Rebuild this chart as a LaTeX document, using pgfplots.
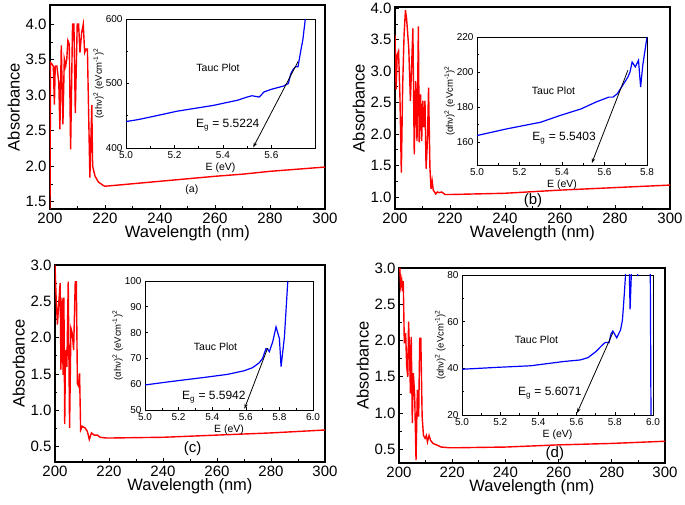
\documentclass[border=0pt]{standalone}
\usepackage{fontspec}
\setmainfont{Liberation Sans}
\usepackage{pgfplots}
\pgfplotsset{compat=1.18}
\usetikzlibrary{arrows.meta}

\pgfplotsset{
  mainax/.style={
    scale only axis, anchor=north west,
    xmin=200, xmax=300, xtick={200,220,...,300},
    minor x tick num=1, minor y tick num=1,
    tick align=inside, xtick pos=bottom, ytick pos=left,
    axis line style={line width=1.6pt},
    tick style={black, line width=0.9pt},
    major tick length=4pt, minor tick length=2.5pt,
    tick label style={font=\fontsize{15}{15}\selectfont},
    label style={font=\fontsize{16.5}{17}\selectfont},
    xlabel={Wavelength (nm)}, ylabel={Absorbance},
    xlabel style={yshift=4pt}, ylabel style={yshift=-1pt},
    y tick label style={/pgf/number format/.cd, fixed, fixed zerofill, precision=1},
    /pgf/number format/assume math mode=true,
  },
  redline/.style={red, line width=1.4pt, mark=none},
  inset/.style={
    scale only axis, anchor=north west,
    axis background/.style={fill=white},
    minor x tick num=1, minor y tick num=1,
    tick align=inside, xtick pos=bottom, ytick pos=left,
    axis line style={line width=0.9pt},
    tick style={black, line width=0.6pt},
    major tick length=3pt, minor tick length=2pt,
    tick label style={font=\fontsize{10}{10}\selectfont},
    xlabel={E (eV)},
    xlabel style={font=\fontsize{10.5}{11}\selectfont, yshift=3pt},
    ylabel={(αhν)\textsuperscript{2} (eVcm\textsuperscript{-1})\textsuperscript{2}},
    ylabel style={font=\fontsize{9.5}{10}\selectfont, yshift=-5pt},
    x tick label style={/pgf/number format/.cd, fixed, fixed zerofill, precision=1},
    /pgf/number format/assume math mode=true,
  },
  blueline/.style={blue, line width=1.2pt, mark=none},
  arrowline/.style={black, line width=0.8pt, mark=none, -{Stealth[length=5pt,width=3.5pt]}},
}
\tikzset{
  lab/.style={font=\fontsize{10.5}{11}\selectfont},
  eg/.style={font=\fontsize{12}{13}\selectfont},
}

\begin{document}
\begin{tikzpicture}
\useasboundingbox (0,0) rectangle (685pt,505pt);

% ---------- (a) ----------
\begin{axis}[mainax, at={(50pt,500pt)}, width=275pt, height=204pt,
  ymin=1.4, ymax=4.27, ytick={1.5,2.0,...,4.0}]
\addplot[redline] coordinates {
(200,1.40) (200.2,3.46) (200.7,3.44) (201.2,3.41) (201.6,2.87) (201.9,3.41)
(202.5,3.41) (203.2,3.18) (203.6,2.52) (204.1,3.70) (204.7,2.59) (205.2,3.51)
(205.7,3.41) (206.1,3.51) (206.5,3.77) (207.0,3.72) (207.5,2.24) (208.2,4.0)
(208.7,4.0) (209.2,2.75) (209.9,4.0) (210.4,4.0) (210.9,3.6) (211.5,3.88)
(212.1,4.0) (212.6,3.6) (213.1,3.65) (213.6,3.65) (214.5,1.84) (215.2,2.86)
(215.5,2.0) (216.4,1.86) (217.6,1.78) (219.4,1.73) (220,1.72) (230,1.755)
(240,1.79) (250,1.825) (260,1.86) (270,1.89) (280,1.93) (290,1.96) (300,1.99)
};
\node[font=\fontsize{10.5}{11}\selectfont] at (axis cs:251.6,1.67) {(a)};
\end{axis}

\begin{axis}[inset, at={(126pt,486pt)}, width=189pt, height=129pt,
  xmin=5.0, xmax=5.78, xtick={5.0,5.2,5.4,5.6},
  ymin=400, ymax=600, ytick={400,500,600}]
\addplot[blueline] coordinates {
(5.0,441) (5.05,444) (5.10,448) (5.15,452) (5.21,457) (5.26,460) (5.31,463)
(5.36,466) (5.41,470) (5.46,474) (5.50,479) (5.52,481) (5.55,479) (5.57,487)
(5.60,491) (5.65,496) (5.67,500) (5.68,515) (5.69,522) (5.70,526) (5.71,526)
(5.72,548) (5.73,568) (5.74,600)
};
\addplot[arrowline] coordinates {(5.71,534) (5.525,401)};
\node[lab] at (axis cs:5.38,525) {Tauc Plot};
\node[eg] at (axis cs:5.42,435) {E\textsubscript{g} = 5.5224};
\end{axis}

% ---------- (b) ----------
\begin{axis}[mainax, at={(395pt,498pt)}, width=275pt, height=202pt,
  ymin=0.81, ymax=4.02, ytick={1.0,1.5,...,4.0}]
\addplot[redline] coordinates {
(200,3.58) (200.4,2.71) (200.8,3.26) (201.3,3.32) (201.8,2.58) (202.3,1.39)
(202.8,2.79) (203.3,3.58) (203.8,3.97) (204.2,3.84) (205.0,3.37) (205.6,2.53)
(206.1,3.16) (206.5,3.68) (207.0,1.68) (207.5,2.84) (208.0,1.89) (208.5,3.71)
(208.8,1.87) (209.3,2.63) (209.7,1.89) (210.1,2.53) (210.5,2.11) (210.9,2.53)
(211.3,1.45) (211.8,1.89) (212.2,2.74) (212.7,1.47) (213.1,1.13) (213.5,1.26)
(213.9,1.11) (214.4,1.08) (214.8,1.05) (215.4,1.08) (216.1,1.07) (217.0,1.08)
(218.2,1.04) (220,1.04) (230,1.05) (240,1.06) (250,1.085) (260,1.11)
(270,1.13) (280,1.15) (290,1.17) (300,1.19)
};
\node[font=\fontsize{15}{16}\selectfont] at (axis cs:250.2,0.95) {(b)};
\end{axis}

\begin{axis}[inset, at={(477pt,468pt)}, width=170pt, height=128pt,
  xmin=5.0, xmax=5.8, xtick={5.0,5.2,...,5.8},
  ymin=147, ymax=220, ytick={160,180,200,220}]
\addplot[blueline] coordinates {
(5.0,163.8) (5.07,165.7) (5.14,167.6) (5.22,169.5) (5.30,171.4) (5.39,175.2)
(5.49,179.0) (5.56,182.9) (5.62,185.7) (5.64,185.7) (5.66,187.6) (5.68,191.4)
(5.71,197.1) (5.72,200.0) (5.73,205.7) (5.745,202.9) (5.76,206.7) (5.77,191.4)
(5.78,203.8) (5.8,220)
};
\addplot[arrowline] coordinates {(5.71,201) (5.54,148)};
\node[lab] at (axis cs:5.36,189.2) {Tauc Plot};
\node[eg] at (axis cs:5.41,162.4) {E\textsubscript{g} = 5.5403};
\end{axis}

% ---------- (c) ----------
\begin{axis}[mainax, at={(55pt,240pt)}, width=270pt, height=197pt,
  ymin=0.29, ymax=3.0, ytick={0.5,1.0,...,3.0}]
\addplot[redline] coordinates {
(200,3.0) (200.4,2.57) (200.9,2.18) (201.4,2.48) (201.9,2.75) (202.2,1.56)
(202.6,2.55) (203.0,1.49) (203.3,2.55) (203.6,0.81) (203.9,1.83) (204.4,1.60)
(204.9,2.77) (205.4,0.76) (205.9,2.13) (206.4,2.06) (206.9,1.83) (207.5,2.77)
(207.9,2.77) (208.3,1.37) (208.8,1.33) (209.1,1.51) (209.5,0.73) (210.1,0.78)
(211.1,0.76) (212.0,0.71) (212.7,0.60) (213.5,0.69) (214.5,0.66) (215.7,0.66)
(216.7,0.63) (219.1,0.62) (220.4,0.62) (230,0.625) (240,0.63) (250,0.645)
(260,0.66) (270,0.675) (280,0.69) (290,0.71) (300,0.73)
};
\node[font=\fontsize{15}{16}\selectfont] at (axis cs:251,0.48) {(c)};
\end{axis}

\begin{axis}[inset, at={(145pt,224pt)}, width=168pt, height=129pt,
  xmin=5.0, xmax=6.0, xtick={5.0,5.2,...,6.0},
  ymin=50, ymax=100, ytick={50,60,...,100}, minor y tick num=0]
\addplot[blueline] coordinates {
(5.0,59.7) (5.15,61.0) (5.25,61.8) (5.35,62.6) (5.49,63.8) (5.59,65.2)
(5.64,66.4) (5.68,68.3) (5.70,70.0) (5.72,73.8) (5.73,73.6) (5.74,72.6)
(5.76,76.4) (5.78,82.2) (5.80,77.7) (5.81,66.8) (5.83,78.4) (5.85,100)
};
\addplot[arrowline] coordinates {(5.73,74) (5.592,50.5)};
\node[lab] at (axis cs:5.42,74.4) {Tauc Plot};
\node[eg] at (axis cs:5.41,55) {E\textsubscript{g} = 5.5942};
\end{axis}

% ---------- (d) ----------
\begin{axis}[mainax, at={(399pt,237pt)}, width=266pt, height=195pt,
  ymin=0.31, ymax=3.0, ytick={0.5,1.0,...,3.0}]
\addplot[redline] coordinates {
(200.3,3.0) (200.6,2.75) (201.0,2.84) (201.3,2.68) (201.6,2.82) (202.0,1.96)
(202.5,2.10) (202.9,1.64) (203.3,1.50) (203.6,2.26) (204.0,1.78) (204.3,1.27)
(204.6,2.05) (205.0,0.86) (205.4,1.55) (205.9,1.23) (206.4,0.35) (206.9,1.32)
(207.4,0.95) (207.8,2.03) (208.2,2.03) (208.7,0.95) (209.2,0.69) (209.8,0.65)
(210.3,0.69) (210.7,0.60) (211.3,0.69) (211.9,0.62) (212.8,0.58) (214.1,0.56)
(215.9,0.53) (219.1,0.52) (221.6,0.52) (230,0.525) (240,0.53) (250,0.545)
(260,0.56) (270,0.57) (280,0.58) (290,0.595) (300,0.61)
};
\node[font=\fontsize{15}{16}\selectfont] at (axis cs:258.6,0.44) {(d)};
\end{axis}

\begin{axis}[inset, at={(462pt,230pt)}, width=191pt, height=140pt,
  xmin=5.0, xmax=6.0, xtick={5.0,5.2,...,6.0},
  ymin=20, ymax=80, ytick={20,40,60,80}]
\addplot[blueline] coordinates {
(5.0,39.6) (5.18,40.4) (5.36,41.1) (5.53,42.9) (5.62,43.6) (5.66,44.6)
(5.70,47.1) (5.73,49.6) (5.75,51.1) (5.77,51.0) (5.78,54.7) (5.79,56.0)
(5.81,53.1) (5.83,56.4) (5.84,60.7) (5.85,72.1) (5.86,85) (5.875,85)
(5.88,65.3) (5.89,88) (5.915,88) (5.92,79.5) (5.925,88) (5.985,95) (5.99,10)
};
\addplot[arrowline] coordinates {(5.79,55.3) (5.602,20.8)};
\node[lab] at (axis cs:5.39,52.1) {Tauc Plot};
\node[eg] at (axis cs:5.46,29.4) {E\textsubscript{g} = 5.6071};
\end{axis}

\end{tikzpicture}
\end{document}
